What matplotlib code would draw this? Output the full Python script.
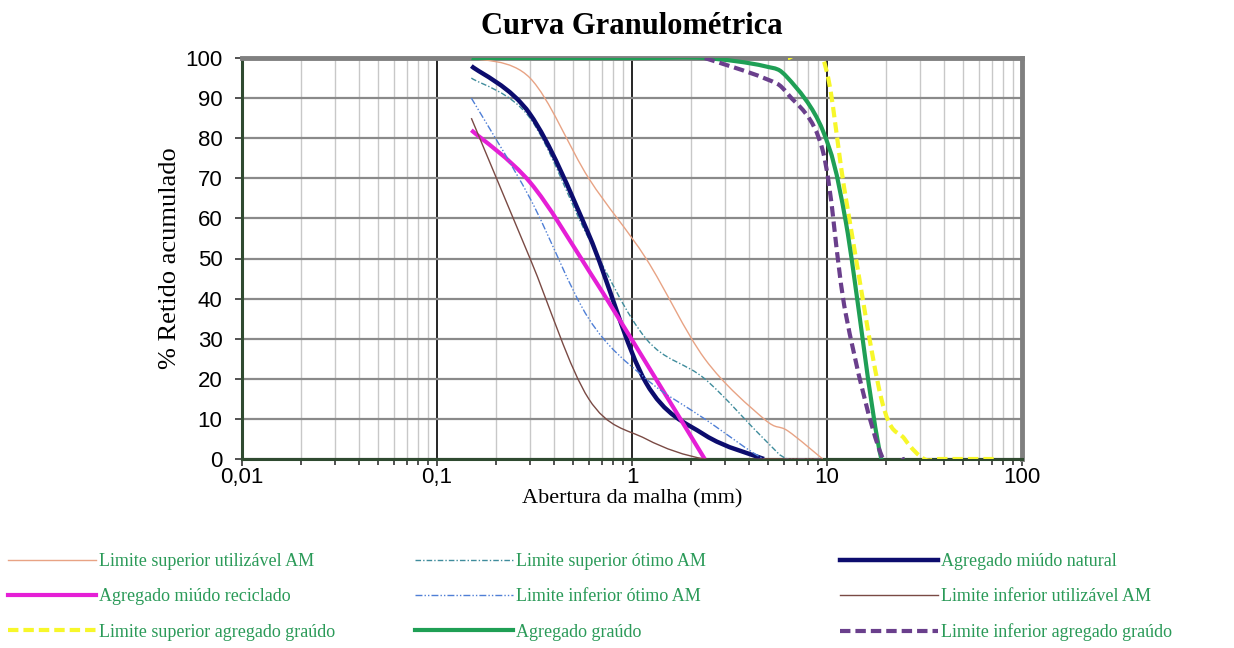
import matplotlib
matplotlib.use("Agg")
import matplotlib.pyplot as plt
import numpy as np
from matplotlib.lines import Line2D
from matplotlib.patches import PathPatch
from matplotlib.path import Path
from matplotlib.ticker import FixedLocator, LogLocator, NullFormatter

# sieve openings (mm)
sieves_fine = [0.15, 0.3, 0.6, 1.18, 2.36, 4.75, 6.3, 9.5]
sieves_coarse = [0.15, 0.3, 0.6, 1.18, 2.36, 4.75, 6.3, 9.5, 12.5, 19, 25, 31.5, 37.5, 50, 63, 75]

# % retido acumulado
lim_sup_util = [100, 95, 70, 50, 25, 10, 7, 0]
lim_sup_otimo = [95, 85, 55, 30, 20, 5, 0, 0]
lim_inf_otimo = [90, 65, 35, 20, 10, 0, 0, 0]
lim_inf_util = [85, 50, 15, 5, 0, 0, 0, 0]
miudo_natural = [98, 86, 56, 19, 6, 0]
miudo_reciclado = [82, 69, 47, 24, 0]
lim_sup_graudo = [100, 100, 65, 15, 5, 0, 0, 0, 0, 0, 0]   # from 6.3 mm
graudo = [100, 100, 100, 100, 100, 98, 95, 82, 59, 0, 0]     # 0.15 .. 25 mm
lim_inf_graudo = [100, 95, 91, 77, 36, 1, 0]                 # 2.36 .. 25 mm

x_ticks = [0.01, 0.1, 1, 10, 100]
x_tick_labels = ["0,01", "0,1", "1", "10", "100"]
y_ticks = list(range(0, 101, 10))


def smooth_path(x, y):
    """Excel-like smoothed line (cubic Bezier through every point, in log-x space)."""
    lx = np.log10(np.asarray(x, float))
    y = np.asarray(y, float)
    n = len(lx)
    verts = [(x[0], y[0])]
    codes = [Path.MOVETO]
    for i in range(n - 1):
        p0 = max(i - 1, 0)
        p3 = min(i + 2, n - 1)
        c1 = (lx[i] + (lx[i + 1] - lx[p0]) / 6, y[i] + (y[i + 1] - y[p0]) / 6)
        c2 = (lx[i + 1] - (lx[p3] - lx[i]) / 6, y[i + 1] - (y[p3] - y[i]) / 6)
        verts += [(10 ** c1[0], c1[1]), (10 ** c2[0], c2[1]), (x[i + 1], y[i + 1])]
        codes += [Path.CURVE4] * 3
    return Path(verts, codes)


series = [
    # label, x, y, color, lw, linestyle
    ("Limite superior utilizável AM", sieves_fine, lim_sup_util, "#e8a384", 1.0, "-"),
    ("Limite superior ótimo AM", sieves_fine, lim_sup_otimo, "#3f8c9c", 1.0, (0, (4, 1.5, 1, 1.5))),
    ("Agregado miúdo natural", sieves_fine[:6], miudo_natural, "#0c0c6e", 3.2, "-"),
    ("Agregado miúdo reciclado", sieves_fine[:5], miudo_reciclado, "#e51fd6", 3.0, "-"),
    ("Limite inferior ótimo AM", sieves_fine, lim_inf_otimo, "#4f7fd6", 1.0, (0, (5, 1.5, 1, 1.5, 1, 1.5))),
    ("Limite inferior utilizável AM", sieves_fine, lim_inf_util, "#7a4a44", 1.0, "-"),
    ("Limite superior agregado graúdo", sieves_coarse[6:], lim_sup_graudo, "#f7f72a", 3.0, (0, (2.5, 1.2))),
    ("Agregado graúdo", sieves_coarse[:11], graudo, "#1f9f55", 3.0, "-"),
    ("Limite inferior agregado graúdo", sieves_coarse[4:11], lim_inf_graudo, "#6a3f8c", 3.0, (0, (2.5, 1.2))),
]

plt.rcParams["font.family"] = ["Liberation Serif", "DejaVu Serif"]

fig = plt.figure(figsize=(12.34, 6.48), dpi=100)
ax = fig.add_axes([242 / 1234, 1 - 459 / 648, 780 / 1234, 401 / 648])

ax.set_xscale("log")
ax.set_xlim(0.01, 100)
ax.set_ylim(0, 100)

# grid
ax.xaxis.set_minor_locator(LogLocator(base=10, subs=np.arange(2, 10)))
ax.xaxis.set_minor_formatter(NullFormatter())
ax.grid(which="minor", axis="x", color="#c8c8c8", lw=1.0, zorder=0)
ax.grid(which="major", axis="x", color="black", lw=1.2, zorder=0)
ax.grid(which="major", axis="y", color="#8a8a8a", lw=1.6, zorder=0)
ax.set_axisbelow(True)

handles = {}
for label, x, y, color, lw, ls in series:
    patch = PathPatch(smooth_path(x, y), fill=False, edgecolor=color, lw=lw,
                      linestyle=ls, zorder=3, capstyle="butt", joinstyle="round")
    ax.add_patch(patch)
    handles[label] = Line2D([], [], color=color, lw=lw, linestyle=ls)

# ticks
ax.xaxis.set_major_locator(FixedLocator(x_ticks))
ax.set_xticklabels(x_tick_labels, fontfamily="Liberation Sans", fontsize=16)
ax.set_yticks(y_ticks)
ax.set_yticklabels([str(v) for v in y_ticks], fontfamily="Liberation Sans", fontsize=16)
ax.tick_params(which="both", direction="out", color="#333333", width=1.2)
ax.tick_params(which="major", length=5)
ax.tick_params(axis="y", pad=9)
ax.tick_params(axis="x", pad=1)
ax.tick_params(which="minor", length=4)

# spines
for side in ["top", "right"]:
    ax.spines[side].set_color("#808080")
    ax.spines[side].set_linewidth(3.5)
for side in ["left", "bottom"]:
    ax.spines[side].set_color("#2f4a30")
    ax.spines[side].set_linewidth(2.2)

ax.set_title("Curva Granulométrica", fontsize=22, fontweight="bold", pad=17)
ax.set_xlabel("Abertura da malha (mm)", fontsize=16, labelpad=0.5)
ax.set_ylabel("% Retido acumulado", fontsize=19, labelpad=3)

# legend: three columns
columns = [
    ["Limite superior utilizável AM", "Agregado miúdo reciclado", "Limite superior agregado graúdo"],
    ["Limite superior ótimo AM", "Limite inferior ótimo AM", "Agregado graúdo"],
    ["Agregado miúdo natural", "Limite inferior utilizável AM", "Limite inferior agregado graúdo"],
]
col_x = [3 / 1234, 410 / 1234, 835 / 1234]
col_handle = [4.85, 5.4, 5.4]
for cx, hl, labels in zip(col_x, col_handle, columns):
    fig.legend([handles[l] for l in labels], labels, loc="upper left",
               bbox_to_anchor=(cx, 1 - 548 / 648), frameon=False,
               fontsize=13, handlelength=hl, handletextpad=0.15,
               labelspacing=1.0, borderaxespad=0, borderpad=0.3,
               labelcolor="#2a9a58")

fig.savefig("out.png", dpi=100)
